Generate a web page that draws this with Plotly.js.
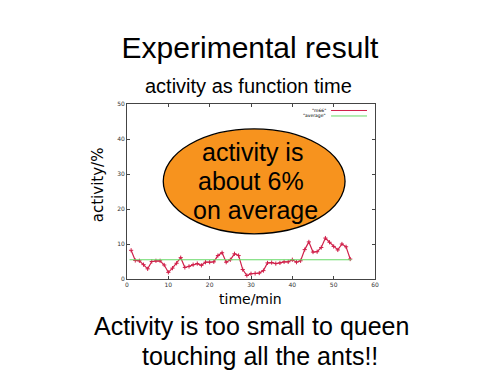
<!DOCTYPE html>
<html><head><meta charset="utf-8">
<script src="https://cdn.plot.ly/plotly-3.0.1.min.js"></script>
<style>html,body{margin:0;padding:0;background:#fff;}#chart{width:500px;height:376px;}</style>
</head><body><div id="chart"></div>
<script>
const timeMin = [1,2,3,4,5,6,7,8,9,10,11,12,13,14,15,16,17,18,19,20,21,22,23,24,25,26,27,28,29,30,31,32,33,34,35,36,37,38,39,40,41,42,43,44,45,46,47,48,49,50,51,52,53,54];
const activity = [8.2,5.3,5.2,4.1,2.9,5.0,5.2,5.2,4.0,1.9,3.1,4.5,6.1,3.3,3.6,4.1,4.4,3.9,4.8,4.8,4.9,6.7,7.5,4.8,5.5,7.2,6.7,2.7,1.0,1.5,1.6,1.7,2.4,4.6,4.7,4.4,4.6,4.9,4.9,5.5,4.8,5.2,8.4,10.6,7.7,7.8,9.0,11.7,10.5,9.3,8.3,10.0,9.2,5.7];
const avgX = [0.6, 54.3];
const avgY = [5.5, 5.5];
const xTicks = [0,10,20,30,40,50,60];
const yTicks = [0,10,20,30,40,50];
const seriesNames = ['"m66"', '"average"'];

const L = 126.7, R = 375, T = 104, B = 279.3;
const W = R - L, H = B - T;
const px = x => (x - L) / W;
const py = y => (B - y) / H;

const traces = [
  {x: timeMin, y: activity, type: 'scatter', mode: 'lines+markers', name: seriesNames[0],
   line: {color: '#d0204a', width: 1.2},
   marker: {symbol: 'cross-thin', size: 3, line: {color: '#d0204a', width: 1}}},
  {x: avgX, y: avgY, type: 'scatter', mode: 'lines', name: seriesNames[1],
   line: {color: '#66d966', width: 1.2}}
];

const axisCommon = {
  showgrid: false, zeroline: false, showline: true, mirror: 'ticks',
  linecolor: '#444', linewidth: 1, ticks: 'inside', ticklen: 3, tickcolor: '#444',
  tickfont: {family: 'DejaVu Sans, sans-serif', size: 6, color: '#333'}
};

const layout = {
  width: 500, height: 376,
  margin: {l: L, r: 500 - R, t: T, b: 376 - B, pad: 0},
  paper_bgcolor: '#fff', plot_bgcolor: '#fff',
  showlegend: false,
  title: {text: 'Experimental result', x: 0.5, xanchor: 'center', y: 1 - 47/376, yanchor: 'middle',
          font: {family: 'Liberation Sans, Arial, sans-serif', size: 30, color: '#000'}},
  xaxis: Object.assign({}, axisCommon, {range: [0, 60], tickvals: xTicks, ticktext: xTicks.map(String)}),
  yaxis: Object.assign({}, axisCommon, {range: [0, 50], tickvals: yTicks, ticktext: yTicks.map(String)}),
  shapes: [
    {type: 'circle', xref: 'paper', yref: 'paper', x0: px(163), x1: px(345), y0: py(234), y1: py(129),
     fillcolor: '#f7931e', line: {color: '#000', width: 1.3}, layer: 'above'},
    {type: 'line', xref: 'paper', yref: 'paper', x0: px(331), x1: px(367), y0: py(110.5), y1: py(110.5),
     line: {color: '#d0204a', width: 1}},
    {type: 'line', xref: 'paper', yref: 'paper', x0: px(331), x1: px(367), y0: py(116), y1: py(116),
     line: {color: '#66d966', width: 1}}
  ],
  annotations: [
    {text: 'activity as function time', xref: 'paper', yref: 'paper', x: px(248), y: py(86), xanchor: 'center', yanchor: 'middle',
     showarrow: false, font: {family: 'Liberation Sans, Arial, sans-serif', size: 20, color: '#000'}},
    {text: 'activity/%', xref: 'paper', yref: 'paper', x: px(98), y: py(185), xanchor: 'center', yanchor: 'middle', textangle: -90,
     showarrow: false, font: {family: 'DejaVu Sans, sans-serif', size: 15, color: '#000'}},
    {text: 'time/min', xref: 'paper', yref: 'paper', x: px(250), y: py(299), xanchor: 'center', yanchor: 'middle',
     showarrow: false, font: {family: 'DejaVu Sans, sans-serif', size: 14, color: '#000'}},
    {text: 'Activity is too small to queen', xref: 'paper', yref: 'paper', x: px(251), y: py(326), xanchor: 'center', yanchor: 'middle',
     showarrow: false, font: {family: 'Liberation Sans, Arial, sans-serif', size: 25, color: '#000'}},
    {text: 'touching all the ants!!', xref: 'paper', yref: 'paper', x: px(260), y: py(356), xanchor: 'center', yanchor: 'middle',
     showarrow: false, font: {family: 'Liberation Sans, Arial, sans-serif', size: 25, color: '#000'}},
    {text: 'activity is', xref: 'paper', yref: 'paper', x: px(252), y: py(152), xanchor: 'center', yanchor: 'middle',
     showarrow: false, font: {family: 'Liberation Sans, Arial, sans-serif', size: 25, color: '#000'}},
    {text: 'about 6%', xref: 'paper', yref: 'paper', x: px(251), y: py(181), xanchor: 'center', yanchor: 'middle',
     showarrow: false, font: {family: 'Liberation Sans, Arial, sans-serif', size: 25, color: '#000'}},
    {text: 'on average', xref: 'paper', yref: 'paper', x: px(255), y: py(210), xanchor: 'center', yanchor: 'middle',
     showarrow: false, font: {family: 'Liberation Sans, Arial, sans-serif', size: 25, color: '#000'}},
    {text: seriesNames[0], xref: 'paper', yref: 'paper', x: px(328), y: py(110.5), xanchor: 'right', yanchor: 'middle',
     showarrow: false, font: {family: 'DejaVu Sans, sans-serif', size: 4.5, color: '#000'}},
    {text: seriesNames[1], xref: 'paper', yref: 'paper', x: px(328), y: py(116), xanchor: 'right', yanchor: 'middle',
     showarrow: false, font: {family: 'DejaVu Sans, sans-serif', size: 4.5, color: '#000'}}
  ]
};

Plotly.newPlot('chart', traces, layout, {staticPlot: true, displayModeBar: false});
</script>
</body></html>
